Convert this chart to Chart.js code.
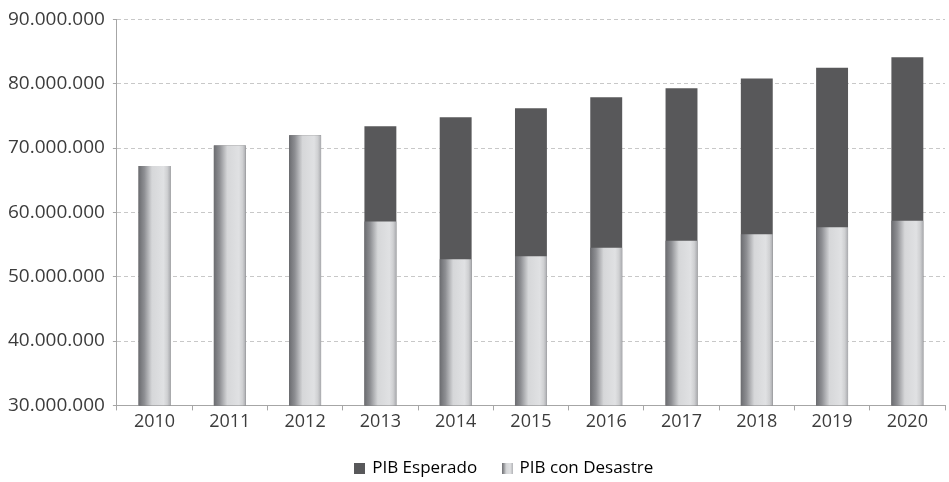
<!DOCTYPE html>
<html>
<head>
<meta charset="utf-8">
<script src="https://cdn.jsdelivr.net/npm/chart.js@4"></script>
<style>
  html, body { margin: 0; padding: 0; background: #fff; }
  #wrap { width: 949px; height: 482px; }
</style>
</head>
<body>
<div id="wrap"><canvas id="pib" width="949" height="482"></canvas></div>
<script>
// datos del gráfico PIB
var anios = ['2010', '2011', '2012', '2013', '2014', '2015', '2016', '2017', '2018', '2019', '2020'];
var pibEsperado = [67200000, 70400000, 72000000, 73400000, 74800000, 76200000, 77900000, 79300000, 80800000, 82500000, 84100000];
var pibDesastre = [67200000, 70400000, 72000000, 58600000, 52700000, 53200000, 54500000, 55600000, 56600000, 57700000, 58700000];
var ticksY = [30000000, 40000000, 50000000, 60000000, 70000000, 80000000, 90000000];

var BAR = 0.424;
var fuente = '"Open Sans", "DejaVu Sans", sans-serif';
var gris = '#3c3c3c';

function pintaDegradado(g) {
  g.addColorStop(0, '#6b6c70');
  g.addColorStop(0.18, '#8e8f93');
  g.addColorStop(0.42, '#d6d7d9');
  g.addColorStop(0.78, '#e0e1e3');
  g.addColorStop(0.9, '#cfd0d2');
  g.addColorStop(1, '#a9aaae');
  return g;
}

// cajitas de la leyenda
function caja(tipo) {
  var c = document.createElement('canvas');
  c.width = 11; c.height = 11;
  var cx = c.getContext('2d');
  if (tipo === 'liso') {
    cx.fillStyle = '#58585a';
  } else {
    cx.fillStyle = pintaDegradado(cx.createLinearGradient(0, 0, 11, 0));
  }
  cx.fillRect(0, 0, 11, 11);
  return c;
}
var cajaEsperado = caja('liso');
var cajaDesastre = caja('degradado');

function degradadoBarra(c) {
  var chart = c.chart;
  var x = chart.scales.x;
  if (!x || c.dataIndex === undefined) return '#d0d1d3';
  var cx = x.getPixelForValue(c.dataIndex);
  var w = x.width / anios.length * BAR;
  return pintaDegradado(chart.ctx.createLinearGradient(cx - w / 2, 0, cx + w / 2, 0));
}

function puntos(v) {
  return String(v).replace(/\B(?=(\d{3})+(?!\d))/g, '.');
}

// acomoda la leyenda: ocupa menos alto en el layout y va corrida a la derecha
var moverLeyenda = {
  id: 'moverLeyenda',
  beforeLayout: function (chart) {
    var lg = chart.legend;
    if (lg && !lg._ajustada) {
      var fit0 = lg.fit;
      lg.fit = function () { fit0.call(this); this._altoReal = this.height; this.height = 30; };
      lg._ajustada = true;
    }
  },
  afterLayout: function (chart) {
    var lg = chart.legend;
    lg.height = lg._altoReal;
    lg.top = 434; lg.bottom = lg.top + lg.height;
    lg.left += 32; lg.right += 32;
  }
};

var ctx = document.getElementById('pib').getContext('2d');

var grafico = new Chart(ctx, {
  type: 'bar',
  data: {
    labels: anios,
    datasets: [{
      label: 'PIB Esperado',
      data: pibEsperado,
      backgroundColor: '#58585a',
      borderWidth: 0,
      order: 2
    }, {
      label: 'PIB con Desastre',
      data: pibDesastre,
      backgroundColor: degradadoBarra,
      borderWidth: 0,
      order: 1
    }]
  },
  plugins: [moverLeyenda],
  options: {
    responsive: false,
    animation: false,
    layout: { padding: { top: 10, right: 4, left: 0, bottom: 18 } },
    datasets: {
      bar: { grouped: false, categoryPercentage: 1, barPercentage: BAR }
    },
    plugins: {
      tooltip: { enabled: false },
      legend: {
        position: 'bottom',
        labels: {
          usePointStyle: true,
          pointStyleWidth: 8,
          padding: 26,
          color: gris,
          font: { family: fuente, size: 17 },
          generateLabels: function (chart) {
            return chart.data.datasets.map(function (ds, i) {
              return {
                text: ds.label,
                pointStyle: i === 0 ? cajaEsperado : cajaDesastre,
                fillStyle: '#58585a',
                strokeStyle: 'transparent',
                lineWidth: 0,
                hidden: false,
                datasetIndex: i
              };
            });
          }
        }
      }
    },
    scales: {
      x: {
        offset: true,
        grid: {
          display: true,
          drawOnChartArea: false,
          offset: true,
          tickLength: 5,
          color: '#a6a6a6'
        },
        border: { color: '#a6a6a6', width: 1 },
        ticks: { color: gris, padding: 1, font: { family: fuente, size: 18 } }
      },
      y: {
        min: 30000000,
        max: 90000000,
        afterBuildTicks: function (axis) {
          axis.ticks = ticksY.map(function (v) { return { value: v }; });
        },
        grid: {
          color: '#c8c8c8',
          tickLength: 4,
          tickColor: '#a6a6a6',
          tickBorderDash: []
        },
        border: { color: '#a6a6a6', width: 1, dash: [4, 3] },
        ticks: {
          color: gris,
          padding: 8,
          font: { family: fuente, size: 19 },
          callback: function (v) { return puntos(v); }
        }
      }
    }
  }
});
</script>
</body>
</html>
